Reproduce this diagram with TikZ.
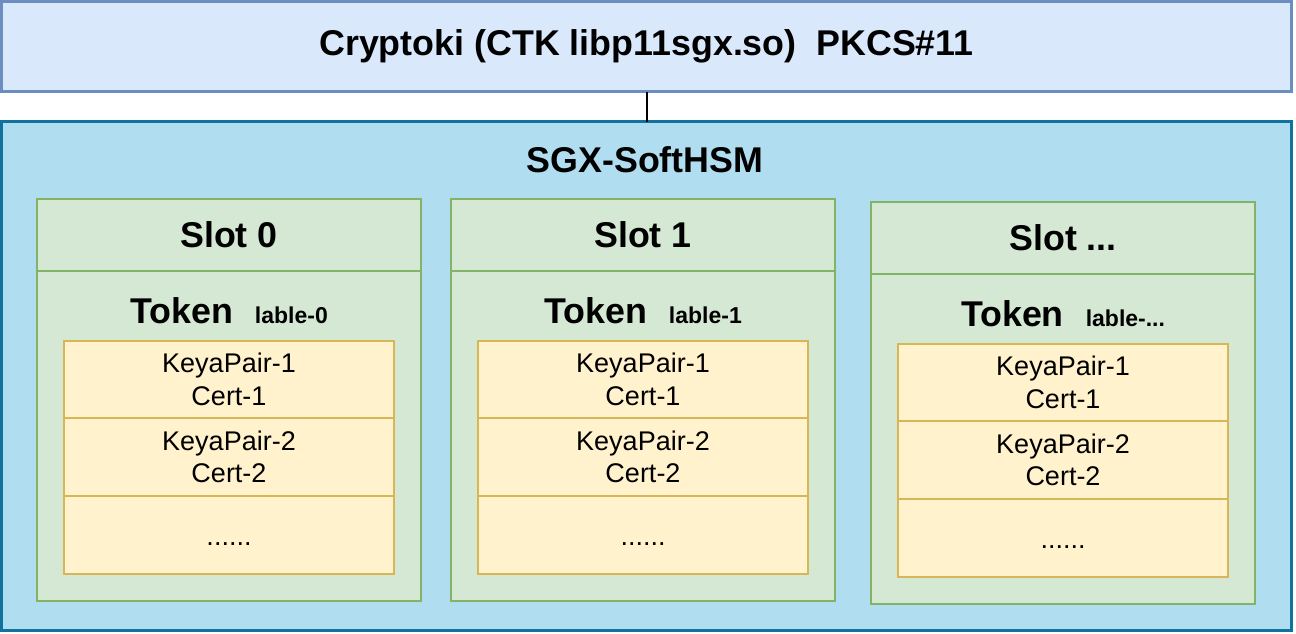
\documentclass[tikz,border=0pt]{standalone}
\usepackage{fontspec}
\setmainfont{Liberation Sans}
\definecolor{topfill}{HTML}{DAE8FC}
\definecolor{topdraw}{HTML}{6C8EBF}
\definecolor{outfill}{HTML}{B1DDF0}
\definecolor{outdraw}{HTML}{10739E}
\definecolor{slotfill}{HTML}{D5E8D4}
\definecolor{slotdraw}{HTML}{82B366}
\definecolor{cellfill}{HTML}{FFF2CC}
\definecolor{celldraw}{HTML}{D6B656}
\newcommand\mytdots{...}
\tikzset{
  px/.style={x=1pt,y=-1pt},
  bigbox/.style={rectangle, inner sep=0pt, outer sep=0pt, anchor=north west, line width=2.8pt},
  topbox/.style={bigbox, fill=topfill, draw=topdraw},
  outbox/.style={bigbox, fill=outfill, draw=outdraw},
  slotbox/.style={rectangle, inner sep=0pt, outer sep=0pt, anchor=north west, line width=2.5pt, fill=slotfill, draw=slotdraw, minimum width=384pt},
  cellbox/.style={rectangle, inner sep=0pt, outer sep=0pt, anchor=north west, line width=2.5pt, fill=cellfill, draw=celldraw, minimum width=330pt, align=center, font=\fontsize{27}{32.5}\selectfont},
  bigtext/.style={font=\fontsize{35.8}{43}\selectfont\bfseries, inner sep=0pt},
  conn/.style={line width=2pt, draw=black},
}
\begin{document}
\begin{tikzpicture}[px]
\useasboundingbox (0,0) rectangle (1296,633);
\node[topbox, minimum width=1290pt, minimum height=90pt] (top) at (1.5,1.5) {};
\node[bigtext] (toptext) at (top.center) {Cryptoki (CTK libp11sgx.so)\ \ PKCS\#11};
\node[outbox, minimum width=1290pt, minimum height=509pt] (outer) at (1.5,121.5) {};
\node[bigtext] (hsm) at (645,160) {SGX-SoftHSM};
\draw[conn] (top.south) -- (outer.north);
\foreach \n/\x/\y/\lab/\s in {0/37/199/0/0, 1/451/199/1/1, 2/871/202/\mytdots/\mytdots}{
  \node[slotbox, minimum height=72pt] (slothead\n) at (\x,\y) {};
  \node[bigtext] (slottext\n) at (slothead\n.center) {Slot \s};
  \node[slotbox, minimum height=330pt] (slotbody\n) at (\x,\y+72) {};
  \node[bigtext, anchor=base] (token\n) at (\x+192,\y+124) {Token\hspace{22pt}{\fontsize{23}{27}\selectfont\bfseries lable-\lab}};
  \node[cellbox, minimum height=77pt] (cella\n) at (\x+27,\y+142) {KeyaPair-1\\Cert-1};
  \node[cellbox, minimum height=78pt] (cellb\n) at (\x+27,\y+219) {KeyaPair-2\\Cert-2};
  \node[cellbox, minimum height=78pt, text height=20pt, text depth=0pt] (cellc\n) at (\x+27,\y+297) {......};
}
\end{tikzpicture}
\end{document}
